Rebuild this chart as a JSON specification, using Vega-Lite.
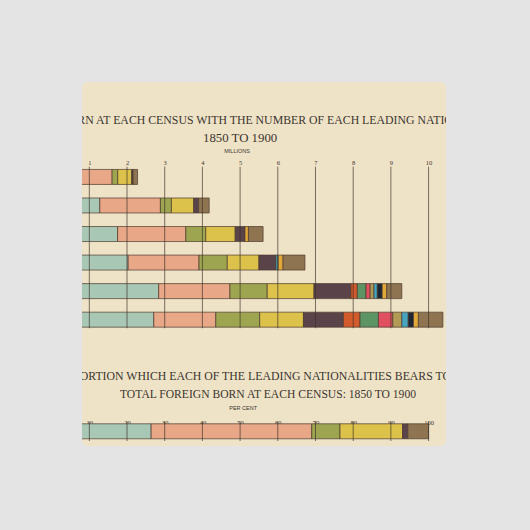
{
  "$schema": "https://vega.github.io/schema/vega-lite/v6.json",
  "width": 364,
  "height": 364,
  "autosize": {"type": "none"},
  "padding": {"left": 82, "top": 82, "right": 84, "bottom": 84},
  "background": "#e4e4e4",
  "config": {
    "view": {"fill": "#efe3c7", "stroke": null, "cornerRadius": 6},
    "axisY": {"disable": true},
    "legend": {"disable": true}
  },
  "datasets": {
    "legend": [
      {"nationality": "Germany", "legendOrder": 1},
      {"nationality": "Ireland", "legendOrder": 2},
      {"nationality": "Canada", "legendOrder": 3},
      {"nationality": "Great Britain", "legendOrder": 4},
      {"nationality": "Scandinavia", "legendOrder": 5},
      {"nationality": "Italy", "legendOrder": 6},
      {"nationality": "Russia", "legendOrder": 7},
      {"nationality": "Poland", "legendOrder": 8},
      {"nationality": "Austria", "legendOrder": 9},
      {"nationality": "Hungary", "legendOrder": 10},
      {"nationality": "Bohemia", "legendOrder": 11},
      {"nationality": "France", "legendOrder": 12},
      {"nationality": "All others", "legendOrder": 13}
    ],
    "foreignBorn": [
      {"year": 1850, "nationality": "Germany", "millions": 0.58},
      {"year": 1850, "nationality": "Ireland", "millions": 1.025},
      {"year": 1850, "nationality": "Canada", "millions": 0.15},
      {"year": 1850, "nationality": "Great Britain", "millions": 0.37},
      {"year": 1850, "nationality": "Scandinavia", "millions": 0.035},
      {"year": 1850, "nationality": "All others", "millions": 0.12},
      {"year": 1860, "nationality": "Germany", "millions": 1.278},
      {"year": 1860, "nationality": "Ireland", "millions": 1.608},
      {"year": 1860, "nationality": "Canada", "millions": 0.292},
      {"year": 1860, "nationality": "Great Britain", "millions": 0.592},
      {"year": 1860, "nationality": "Scandinavia", "millions": 0.13},
      {"year": 1860, "nationality": "All others", "millions": 0.28},
      {"year": 1870, "nationality": "Germany", "millions": 1.75},
      {"year": 1870, "nationality": "Ireland", "millions": 1.81},
      {"year": 1870, "nationality": "Canada", "millions": 0.53},
      {"year": 1870, "nationality": "Great Britain", "millions": 0.78},
      {"year": 1870, "nationality": "Scandinavia", "millions": 0.26},
      {"year": 1870, "nationality": "France", "millions": 0.09},
      {"year": 1870, "nationality": "All others", "millions": 0.39},
      {"year": 1880, "nationality": "Germany", "millions": 2.03},
      {"year": 1880, "nationality": "Ireland", "millions": 1.88},
      {"year": 1880, "nationality": "Canada", "millions": 0.75},
      {"year": 1880, "nationality": "Great Britain", "millions": 0.84},
      {"year": 1880, "nationality": "Scandinavia", "millions": 0.45},
      {"year": 1880, "nationality": "Hungary", "millions": 0.06},
      {"year": 1880, "nationality": "France", "millions": 0.13},
      {"year": 1880, "nationality": "All others", "millions": 0.58},
      {"year": 1890, "nationality": "Germany", "millions": 2.84},
      {"year": 1890, "nationality": "Ireland", "millions": 1.89},
      {"year": 1890, "nationality": "Canada", "millions": 0.99},
      {"year": 1890, "nationality": "Great Britain", "millions": 1.24},
      {"year": 1890, "nationality": "Scandinavia", "millions": 0.98},
      {"year": 1890, "nationality": "Italy", "millions": 0.17},
      {"year": 1890, "nationality": "Russia", "millions": 0.23},
      {"year": 1890, "nationality": "Poland", "millions": 0.11},
      {"year": 1890, "nationality": "Austria", "millions": 0.10},
      {"year": 1890, "nationality": "Hungary", "millions": 0.09},
      {"year": 1890, "nationality": "Bohemia", "millions": 0.13},
      {"year": 1890, "nationality": "France", "millions": 0.12},
      {"year": 1890, "nationality": "All others", "millions": 0.40},
      {"year": 1900, "nationality": "Germany", "millions": 2.71},
      {"year": 1900, "nationality": "Ireland", "millions": 1.645},
      {"year": 1900, "nationality": "Canada", "millions": 1.165},
      {"year": 1900, "nationality": "Great Britain", "millions": 1.16},
      {"year": 1900, "nationality": "Scandinavia", "millions": 1.06},
      {"year": 1900, "nationality": "Italy", "millions": 0.44},
      {"year": 1900, "nationality": "Russia", "millions": 0.49},
      {"year": 1900, "nationality": "Poland", "millions": 0.38},
      {"year": 1900, "nationality": "Austria", "millions": 0.24},
      {"year": 1900, "nationality": "Hungary", "millions": 0.17},
      {"year": 1900, "nationality": "Bohemia", "millions": 0.14},
      {"year": 1900, "nationality": "France", "millions": 0.13},
      {"year": 1900, "nationality": "All others", "millions": 0.65}
    ],
    "proportion": [
      {"year": 1850, "nationality": "Germany", "percent": 26.4},
      {"year": 1850, "nationality": "Ireland", "percent": 42.6},
      {"year": 1850, "nationality": "Canada", "percent": 7.5},
      {"year": 1850, "nationality": "Great Britain", "percent": 16.6},
      {"year": 1850, "nationality": "Scandinavia", "percent": 1.4},
      {"year": 1850, "nationality": "All others", "percent": 5.5}
    ],
    "millionTicks": [
      {"m": 1}, {"m": 2}, {"m": 3}, {"m": 4}, {"m": 5},
      {"m": 6}, {"m": 7}, {"m": 8}, {"m": 9}, {"m": 10}
    ],
    "percentTicks": [
      {"p": 10}, {"p": 20}, {"p": 30}, {"p": 40}, {"p": 50},
      {"p": 60}, {"p": 70}, {"p": 80}, {"p": 90}, {"p": 100}
    ]
  },
  "resolve": {"scale": {"x": "independent", "y": "independent"}},
  "layer": [
    {
      "layer": [
        {
          "data": {"name": "foreignBorn"},
          "transform": [
            {"lookup": "nationality", "from": {"data": {"name": "legend"}, "key": "nationality", "fields": ["legendOrder"]}}
          ],
          "mark": {"type": "bar", "orient": "horizontal", "size": 15, "clip": true, "stroke": "#4a3a2e", "strokeWidth": 0.7},
          "encoding": {
            "x": {
              "field": "millions", "type": "quantitative", "stack": "zero",
              "scale": {"domain": [0.806, 10.462], "nice": false, "zero": false},
              "axis": {"orient": "top", "offset": -84, "values": [1, 2, 3, 4, 5, 6, 7, 8, 9, 10], "format": "d", "domain": false, "ticks": false, "tickSize": 0, "grid": false, "title": null, "labelFont": "Liberation Serif", "labelFontSize": 6.5, "labelColor": "#3b3530", "labelPadding": 1, "labelFlush": false, "labelOverlap": false}
            },
            "y": {"field": "year", "type": "quantitative", "scale": {"domain": [1818.5, 1942.5], "reverse": true, "nice": false, "zero": false}, "axis": null},
            "order": {"field": "legendOrder", "type": "quantitative", "sort": "ascending"},
            "color": {
              "field": "nationality", "type": "nominal",
              "scale": {
                "domain": ["Germany", "Ireland", "Canada", "Great Britain", "Scandinavia", "Italy", "Russia", "Poland", "Austria", "Hungary", "Bohemia", "France", "All others"],
                "range": ["#a8c8b5", "#e8a787", "#9ea550", "#dcc24b", "#5b434a", "#d35a2b", "#5c9464", "#e05060", "#b09a55", "#45a5c0", "#1e2533", "#e0a838", "#8e7450"]
              },
              "legend": null
            }
          }
        },
        {
          "data": {"name": "millionTicks"},
          "mark": {"type": "rule", "stroke": "#3b3128", "strokeWidth": 0.9, "opacity": 0.75},
          "encoding": {
            "x": {"field": "m", "type": "quantitative", "title": null, "scale": {"domain": [0.806, 10.462], "nice": false, "zero": false}},
            "y": {"datum": 1846.4, "axis": null},
            "y2": {"datum": 1903.0}
          }
        },
        {
          "data": {"values": [{}]},
          "mark": {"type": "text", "text": "TOTAL FOREIGN BORN AT EACH CENSUS WITH THE NUMBER OF EACH LEADING NATIONALITY", "font": "Liberation Serif", "fontSize": 11.8, "color": "#3b3530", "baseline": "middle", "align": "center", "clip": true},
          "encoding": {"x": {"datum": 4.78}, "y": {"datum": 1830.2, "axis": null}}
        },
        {
          "data": {"values": [{}]},
          "mark": {"type": "text", "text": "1850 TO 1900", "font": "Liberation Serif", "fontSize": 12.8, "color": "#3b3530", "baseline": "middle", "align": "center", "clip": true},
          "encoding": {"x": {"datum": 5.0}, "y": {"datum": 1836.5, "axis": null}}
        },
        {
          "data": {"values": [{}]},
          "mark": {"type": "text", "text": "MILLIONS", "font": "Liberation Sans", "fontSize": 5.5, "color": "#3b3530", "baseline": "middle", "align": "center", "clip": true},
          "encoding": {"x": {"datum": 4.92}, "y": {"datum": 1841.0, "axis": null}}
        }
      ]
    },
    {
      "layer": [
        {
          "data": {"name": "proportion"},
          "transform": [
            {"lookup": "nationality", "from": {"data": {"name": "legend"}, "key": "nationality", "fields": ["legendOrder"]}}
          ],
          "mark": {"type": "bar", "orient": "horizontal", "size": 15, "clip": true, "stroke": "#4a3a2e", "strokeWidth": 0.7},
          "encoding": {
            "x": {
              "field": "percent", "type": "quantitative", "stack": "zero",
              "scale": {"domain": [8.06, 104.62], "nice": false, "zero": false},
              "axis": {"orient": "top", "offset": -344, "values": [10, 20, 30, 40, 50, 60, 70, 80, 90, 100], "format": "d", "domain": false, "ticks": false, "tickSize": 0, "grid": false, "title": null, "labelFont": "Liberation Serif", "labelFontSize": 6.5, "labelColor": "#3b3530", "labelPadding": 1, "labelFlush": false, "labelOverlap": false}
            },
            "y": {"field": "year", "type": "quantitative", "scale": {"domain": [1729.4, 1853.4], "reverse": true, "nice": false, "zero": false}, "axis": null},
            "order": {"field": "legendOrder", "type": "quantitative", "sort": "ascending"},
            "color": {
              "field": "nationality", "type": "nominal",
              "scale": {
                "domain": ["Germany", "Ireland", "Canada", "Great Britain", "Scandinavia", "Italy", "Russia", "Poland", "Austria", "Hungary", "Bohemia", "France", "All others"],
                "range": ["#a8c8b5", "#e8a787", "#9ea550", "#dcc24b", "#5b434a", "#d35a2b", "#5c9464", "#e05060", "#b09a55", "#45a5c0", "#1e2533", "#e0a838", "#8e7450"]
              },
              "legend": null
            }
          }
        },
        {
          "data": {"name": "percentTicks"},
          "mark": {"type": "rule", "stroke": "#3b3128", "strokeWidth": 0.9, "opacity": 0.75, "clip": true},
          "encoding": {
            "x": {"field": "p", "type": "quantitative", "title": null, "scale": {"domain": [8.06, 104.62], "nice": false, "zero": false}},
            "y": {"datum": 1846.6, "axis": null},
            "y2": {"datum": 1853.4}
          }
        },
        {
          "data": {"values": [{}]},
          "mark": {"type": "text", "text": "PROPORTION WHICH EACH OF THE LEADING NATIONALITIES BEARS TO THE", "font": "Liberation Serif", "fontSize": 11.8, "color": "#3b3530", "baseline": "middle", "align": "center", "clip": true},
          "encoding": {"x": {"datum": 56.2}, "y": {"datum": 1830.6, "axis": null}}
        },
        {
          "data": {"values": [{}]},
          "mark": {"type": "text", "text": "TOTAL FOREIGN BORN AT EACH CENSUS: 1850 TO 1900", "font": "Liberation Serif", "fontSize": 11.6, "color": "#3b3530", "baseline": "middle", "align": "center", "clip": true},
          "encoding": {"x": {"datum": 57.4}, "y": {"datum": 1837.2, "axis": null}}
        },
        {
          "data": {"values": [{}]},
          "mark": {"type": "text", "text": "PER CENT", "font": "Liberation Sans", "fontSize": 5.5, "color": "#3b3530", "baseline": "middle", "align": "center", "clip": true},
          "encoding": {"x": {"datum": 50.8}, "y": {"datum": 1841.8, "axis": null}}
        }
      ]
    }
  ]
}
